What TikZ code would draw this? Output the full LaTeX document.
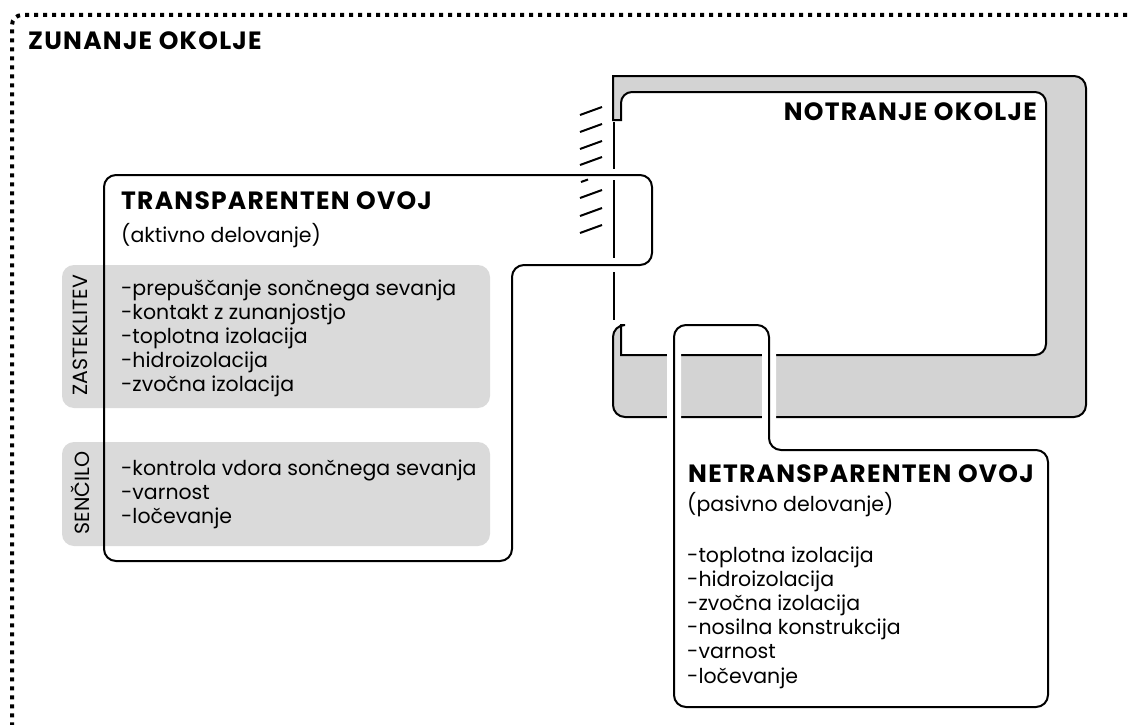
\documentclass[tikz,border=0pt]{standalone}
\usepackage{fontspec}
\setmainfont{Poppins}
\newfontfamily\headfont[LetterSpace=5]{Poppins}
\definecolor{wallgray}{HTML}{D3D3D3}
\definecolor{boxgray}{HTML}{DADADA}
\tikzset{
  wall/.style={fill=wallgray, draw=black, line width=2pt},
  envbox/.style={draw=black, line width=2pt, rounded corners=12pt},
  halo/.style={draw=white, line width=14pt, rounded corners=12pt},
  graybox/.style={fill=boxgray, rounded corners=12pt},
  item/.style={anchor=base west, inner sep=0pt, font=\fontsize{20.5}{24}\selectfont},
  title/.style={anchor=base west, inner sep=0pt, font=\headfont\bfseries\fontsize{25}{29}\selectfont},
  side/.style={rotate=90, inner sep=0pt, font=\fontsize{20.5}{24}\selectfont},
  glass/.style={line width=2pt},
  hatchline/.style={line width=2pt},
  outline/.style={line width=4pt, dash pattern=on 4pt off 5pt, rounded corners=10pt},
}
\begin{document}
\begin{tikzpicture}[x=1pt, y=-1pt]
\useasboundingbox (0,0) rectangle (1132,725);
\begin{scope}
\clip (0,0) rectangle (1132,725);
% outer environment boundary
\draw[outline] (1145,15) -- (12,15) -- (12,745);
\end{scope}
\node[title, anchor=base west] (zun) at (28,49) {ZUNANJE OKOLJE};

% building wall around the interior, open on the glazed side
\path[wall] (621,120) -- (613,120) -- (613,76)
  [rounded corners=12pt] -- (1086,76) -- (1086,417) -- (613,417) -- (613,325)
  [sharp corners] -- (621,325) -- (621,355)
  [rounded corners=11pt] -- (1046,355) -- (1046,92) -- (621,92) -- (621,120)
  [sharp corners] -- cycle;
\node[title, anchor=base east] (notr) at (1037,120) {NOTRANJE OKOLJE};

% glazing: interrupted line and hatching
\coordinate (g1) at (614,122); \coordinate (g2) at (614,169);
\coordinate (g3) at (614,180); \coordinate (g4) at (614,258);
\coordinate (g5) at (614,272); \coordinate (g6) at (614,320);
\draw[glass] (g1) -- (g2) (g3) -- (g4) (g5) -- (g6);
\foreach \y [count=\i] in {115,132,149,165,198,216,233} {
  \coordinate (ha\i) at (580,\y);
  \coordinate (hb\i) at (602,{\y-8});
  \draw[hatchline] (ha\i) -- (hb\i);
}
\coordinate (hc) at (581,182); \coordinate (hd) at (588,179.5);
\draw[hatchline] (hc) -- (hd);

% grey groups of the transparent envelope
\path[graybox] (62,265) rectangle (490,408);
\path[graybox] (62,442) rectangle (490,546);
\node[side] (zast) at (80,335) {ZASTEKLITEV};
\node[side] (senc) at (80,493) {SENČILO};

% transparent envelope
\draw[envbox] (104,175) -- (652,175) -- (652,265) -- (512,265) -- (512,561) -- (104,561) -- cycle;
\node[title] (tr) at (121,209) {TRANSPARENTEN OVOJ};
\node[item] (tra) at (121,242) {(aktivno delovanje)};
\foreach \t [count=\i] in {-prepuščanje sončnega sevanja,-kontakt z zunanjostjo,-toplotna izolacija,-hidroizolacija,-zvočna izolacija}
  \node[item] (z\i) at (121,{295+24*(\i-1)}) {\t};
\foreach \t [count=\i] in {-kontrola vdora sončnega sevanja,-varnost,-ločevanje}
  \node[item] (s\i) at (121,{475+24*(\i-1)}) {\t};

% opaque envelope, cut through the wall
\draw[halo] (674,707) -- (674,325) -- (769,325) -- (769,450) -- (1048,450) -- (1048,707) -- cycle;
\draw[envbox] (674,707) -- (674,325) -- (769,325) -- (769,450) -- (1048,450) -- (1048,707) -- cycle;
\node[title] (ne) at (688,482) {NETRANSPARENTEN OVOJ};
\node[item] (nea) at (687,511) {(pasivno delovanje)};
\foreach \t [count=\i] in {-toplotna izolacija,-hidroizolacija,-zvočna izolacija,-nosilna konstrukcija,-varnost,-ločevanje}
  \node[item] (n\i) at (687,{562+24.2*(\i-1)}) {\t};
\end{tikzpicture}
\end{document}
